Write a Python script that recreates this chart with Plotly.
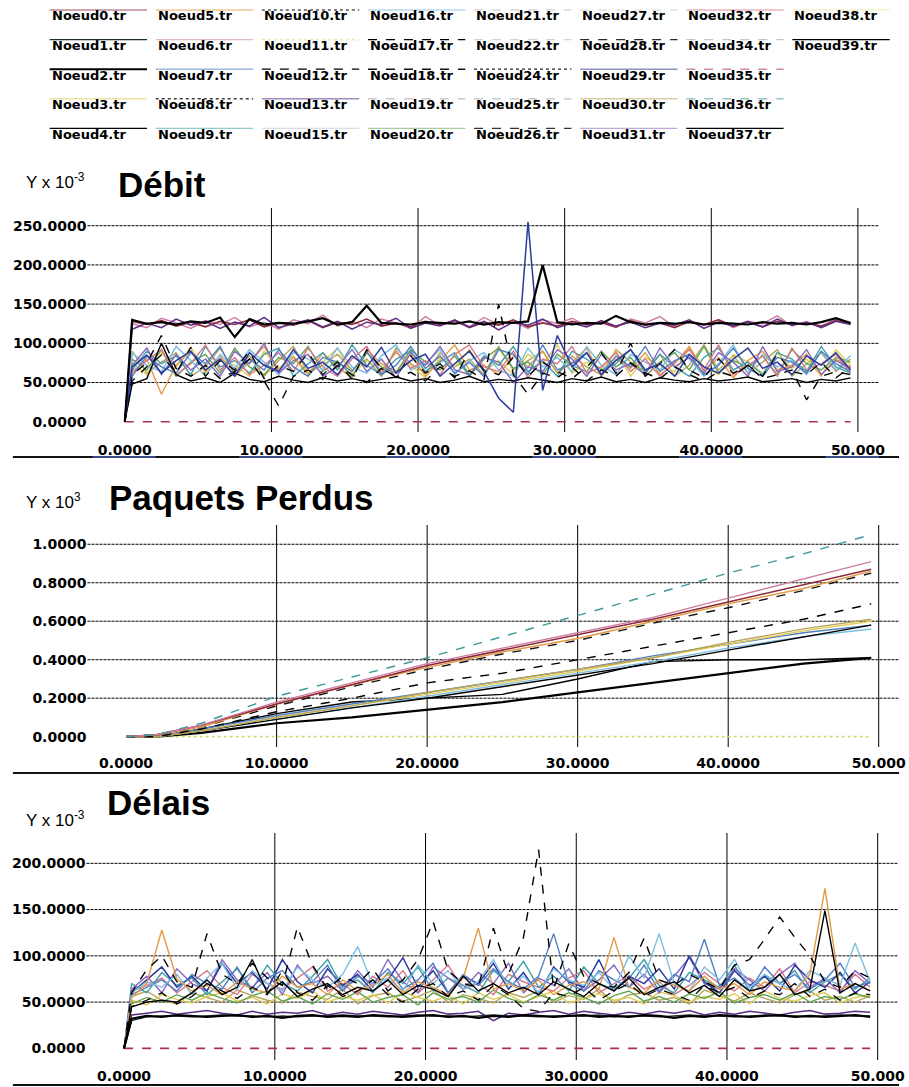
import plotly.graph_objects as go

W, H = 909, 1087

# ---------------------------------------------------------------- series names
NAMES = [
    "Noeud0.tr", "Noeud1.tr", "Noeud2.tr", "Noeud3.tr", "Noeud4.tr",
    "Noeud5.tr", "Noeud6.tr", "Noeud7.tr", "Noeud8.tr", "Noeud9.tr",
    "Noeud10.tr", "Noeud11.tr", "Noeud12.tr", "Noeud13.tr", "Noeud15.tr",
    "Noeud16.tr", "Noeud17.tr", "Noeud18.tr", "Noeud19.tr", "Noeud20.tr",
    "Noeud21.tr", "Noeud22.tr", "Noeud24.tr", "Noeud25.tr", "Noeud26.tr",
    "Noeud27.tr", "Noeud28.tr", "Noeud29.tr", "Noeud30.tr", "Noeud31.tr",
    "Noeud32.tr", "Noeud34.tr", "Noeud35.tr", "Noeud36.tr", "Noeud37.tr",
    "Noeud38.tr", "Noeud39.tr",
]

# colour, dash, width for every node
STYLE = {
    "Noeud0.tr": ("#8c2a3a", "solid", 1.6),
    "Noeud1.tr": ("#1f2f2f", "solid", 1.4),
    "Noeud2.tr": ("#000000", "solid", 2.2),
    "Noeud3.tr": ("#e2cc52", "solid", 1.4),
    "Noeud4.tr": ("#000000", "solid", 1.4),
    "Noeud5.tr": ("#e39a45", "solid", 1.4),
    "Noeud6.tr": ("#cf7ca4", "solid", 1.4),
    "Noeud7.tr": ("#4f7fc2", "solid", 1.4),
    "Noeud8.tr": ("#404040", "dot", 1.4),
    "Noeud9.tr": ("#3f9fa6", "solid", 1.4),
    "Noeud10.tr": ("#000000", "dot", 1.2),
    "Noeud11.tr": ("#cfe07a", "dot", 1.8),
    "Noeud12.tr": ("#000000", "dash", 1.3),
    "Noeud13.tr": ("#5a2d86", "solid", 1.5),
    "Noeud15.tr": ("#b8c4d2", "solid", 1.2),
    "Noeud16.tr": ("#7bbde3", "solid", 1.4),
    "Noeud17.tr": ("#000000", "dash", 1.4),
    "Noeud18.tr": ("#111111", "dash", 1.4),
    "Noeud19.tr": ("#8a8a8a", "dash", 1.2),
    "Noeud20.tr": ("#62a653", "solid", 1.4),
    "Noeud21.tr": ("#9a9a9a", "dash", 1.2),
    "Noeud22.tr": ("#b0b0b0", "dash", 1.2),
    "Noeud24.tr": ("#222222", "dot", 1.2),
    "Noeud25.tr": ("#8c8c8c", "dash", 1.2),
    "Noeud26.tr": ("#333333", "dash", 1.2),
    "Noeud27.tr": ("#b5b5b5", "dash", 1.2),
    "Noeud28.tr": ("#2a2a2a", "dash", 1.2),
    "Noeud29.tr": ("#2b3a9c", "solid", 1.5),
    "Noeud30.tr": ("#b7a45a", "solid", 1.4),
    "Noeud31.tr": ("#8a66c2", "solid", 1.4),
    "Noeud32.tr": ("#d9788a", "solid", 1.4),
    "Noeud34.tr": ("#999999", "dash", 1.2),
    "Noeud35.tr": ("#a8324a", "dash", 1.6),
    "Noeud36.tr": ("#3d9a9a", "dash", 1.4),
    "Noeud37.tr": ("#000000", "solid", 1.4),
    "Noeud38.tr": ("#ece7a0", "solid", 1.4),
    "Noeud39.tr": ("#000000", "solid", 1.4),
}

# ---------------------------------------------------------------- Débit (x 10^-3)
# samples at t = 0, 0.5, 1.5, ..., 49.5
DEBIT_N0 = [0,
    128, 124, 129, 122, 127, 121, 128, 124, 130, 121,
    126, 123, 129, 120, 127, 124, 131, 122, 126, 121,
    128, 124, 129, 120, 127, 123, 130, 121, 126, 122,
    128, 124, 127, 121, 129, 123, 126, 120, 128, 124,
    130, 122, 127, 121, 128, 124, 126, 122, 129, 125]
DEBIT_N13 = [0,
    118, 126, 120, 131, 123, 128, 119, 127, 122, 133,
    120, 125, 130, 121, 128, 118, 127, 124, 132, 119,
    126, 122, 130, 121, 128, 117, 127, 123, 131, 120,
    126, 121, 129, 122, 127, 120, 126, 123, 130, 119,
    127, 122, 128, 121, 131, 123, 127, 120, 128, 124]
DEBIT_N6 = [0,
    125, 120, 132, 126, 119, 129, 124, 133, 121, 127,
    118, 130, 125, 136, 122, 128, 120, 131, 126, 119,
    134, 123, 128, 121, 133, 124, 127, 119, 130, 125,
    132, 122, 126, 120, 131, 126, 134, 121, 127, 123,
    130, 120, 128, 125, 135, 122, 128, 121, 131, 126]
DEBIT_N2 = [0,
    130, 125, 127, 124, 128, 126, 133, 108, 131, 124,
    126, 125, 128, 132, 124, 127, 148, 126, 125, 124,
    127, 126, 125, 128, 124, 127, 126, 128, 200, 127,
    124, 126, 125, 135, 127, 124, 126, 125, 127, 124,
    126, 125, 124, 127, 125, 126, 124, 127, 132, 126]
DEBIT_N4 = [0,
    48, 55, 100, 60, 52, 56, 50, 62, 54, 51,
    58, 53, 50, 56, 52, 55, 51, 54, 57, 52,
    55, 50, 53, 58, 51, 54, 52, 56, 53, 50,
    55, 52, 57, 51, 54, 50, 56, 53, 51, 55,
    52, 54, 57, 51, 53, 55, 50, 54, 52, 56]
DEBIT_N17 = [0,
    60, 75, 110, 68, 58, 72, 55, 64, 80, 52,
    20, 58, 66, 54, 72, 60, 50, 68, 57, 63,
    52, 70, 58, 65, 54, 150, 60, 35, 62, 56,
    70, 52, 66, 58, 75, 62, 55, 70, 60, 52,
    64, 58, 72, 55, 60, 66, 28, 58, 64, 60]
DEBIT_N12 = [0,
    52, 70, 85, 62, 95, 58, 78, 66, 90, 55,
    72, 64, 88, 60, 76, 54, 92, 68, 58, 84,
    62, 74, 56, 90, 66, 60, 82, 58, 76, 64,
    55, 70, 88, 62, 100, 58, 74, 92, 66, 56,
    80, 62, 72, 58, 86, 64, 60, 76, 56, 70]
DEBIT_N29 = [0,
    70, 85, 62, 78, 90, 66, 80, 58, 88, 72,
    64, 92, 68, 76, 60, 84, 70, 95, 62, 78,
    86, 58, 74, 90, 64, 30, 12, 255, 40, 110,
    70, 88, 60, 78, 92, 66, 74, 58, 86, 70,
    62, 80, 94, 68, 76, 60, 84, 72, 88, 66]
DEBIT_N5 = [0,
    62, 80, 35, 72, 90, 64, 84, 58, 76, 96,
    66, 82, 60, 88, 70, 56, 92, 74, 64, 86,
    58, 78, 98, 66, 72, 60, 84, 70, 90, 62,
    76, 94, 58, 80, 68, 88, 60, 74, 96, 64,
    82, 56, 78, 90, 66, 72, 86, 60, 80, 70]
DEBIT_N3 = [0,
    75, 60, 88, 70, 95, 62, 80, 72, 58, 90,
    68, 84, 62, 76, 94, 60, 78, 66, 88, 72,
    56, 82, 70, 92, 64, 78, 60, 86, 74, 98,
    62, 76, 68, 90, 58, 82, 72, 64, 94, 70,
    60, 86, 76, 62, 88, 68, 80, 58, 92, 72]
DEBIT_N20 = [0,
    80, 66, 92, 58, 76, 86, 62, 94, 70, 60,
    82, 74, 96, 64, 78, 58, 88, 70, 62, 92,
    76, 66, 84, 58, 80, 94, 68, 76, 60, 86,
    72, 64, 90, 70, 82, 58, 76, 88, 66, 96,
    62, 78, 70, 84, 60, 92, 74, 66, 82, 76]
DEBIT_N9 = [0,
    66, 90, 74, 84, 60, 96, 70, 78, 62, 86,
    94, 58, 74, 88, 66, 98, 72, 60, 80, 90,
    64, 76, 88, 60, 84, 72, 96, 64, 78, 58,
    90, 80, 66, 74, 92, 62, 86, 70, 58, 82,
    94, 66, 76, 60, 88, 80, 64, 96, 70, 62]
DEBIT_N16 = [0,
    88, 72, 64, 96, 78, 58, 86, 68, 92, 76,
    60, 88, 80, 66, 94, 70, 62, 84, 98, 66,
    74, 92, 60, 78, 88, 66, 58, 94, 70, 82,
    64, 96, 72, 60, 86, 76, 66, 92, 80, 58,
    74, 98, 62, 86, 70, 78, 60, 90, 66, 84]
DEBIT_N7 = [0,
    58, 84, 70, 62, 88, 74, 96, 60, 80, 66,
    92, 70, 58, 82, 76, 64, 90, 60, 72, 96,
    68, 84, 62, 76, 58, 92, 86, 60, 98, 66,
    74, 88, 60, 84, 70, 96, 64, 78, 86, 60,
    72, 94, 68, 58, 82, 76, 62, 90, 74, 64]
DEBIT_N31 = [0,
    72, 94, 60, 86, 66, 80, 58, 90, 74, 100,
    62, 78, 86, 58, 70, 92, 64, 80, 56, 88,
    72, 96, 66, 60, 82, 76, 50, 70, 64, 92,
    80, 58, 86, 66, 74, 60, 94, 70, 82, 62,
    88, 76, 58, 96, 64, 70, 92, 60, 78, 68]
DEBIT_N32 = [0,
    64, 78, 92, 60, 74, 98, 66, 82, 60, 72,
    88, 64, 94, 70, 58, 80, 96, 62, 90, 68,
    78, 60, 86, 98, 70, 64, 90, 56, 80, 74,
    96, 62, 70, 88, 64, 80, 58, 76, 92, 66,
    98, 60, 72, 84, 58, 94, 66, 74, 86, 62]
DEBIT_N30 = [0,
    90, 62, 76, 88, 58, 70, 94, 64, 84, 58,
    78, 96, 62, 72, 86, 66, 80, 58, 94, 74,
    62, 88, 70, 80, 60, 96, 66, 78, 90, 62,
    84, 70, 60, 92, 76, 64, 86, 58, 72, 98,
    66, 84, 62, 76, 92, 58, 74, 88, 64, 80]

# ---------------------------------------------------------------- Délais (x 10^-3)
DELAI_N2 = [0,
    32, 35, 34, 36, 35, 34, 35, 36, 34, 35,
    33, 35, 36, 34, 35, 34, 36, 35, 34, 35,
    36, 34, 35, 33, 35, 34, 36, 35, 34, 35,
    36, 34, 35, 34, 36, 35, 33, 35, 34, 36,
    35, 34, 35, 36, 34, 35, 34, 35, 36, 34]
DELAI_N1 = [0,
    30, 34, 35, 35, 34, 35, 36, 35, 35, 34,
    35, 34, 35, 35, 36, 35, 35, 34, 35, 36,
    35, 35, 34, 35, 36, 35, 35, 34, 35, 35,
    35, 36, 34, 35, 35, 34, 35, 36, 35, 35,
    34, 35, 36, 35, 35, 34, 35, 36, 35, 35]
DELAI_N13 = [0,
    36, 38, 40, 37, 39, 41, 38, 36, 40, 37,
    39, 38, 41, 36, 39, 37, 40, 38, 36, 39,
    41, 37, 38, 40, 30, 38, 36, 39, 41, 37,
    40, 38, 36, 39, 37, 40, 38, 41, 36, 39,
    37, 40, 38, 36, 39, 41, 37, 38, 40, 39]
DELAI_N20 = [0,
    48, 55, 50, 58, 52, 60, 54, 49, 57, 62,
    51, 56, 48, 59, 53, 61, 50, 55, 58, 47,
    60, 53, 56, 50, 63, 54, 49, 58, 52, 60,
    55, 48, 57, 62, 51, 56, 50, 59, 54, 61,
    49, 55, 58, 52, 60, 50, 56, 53, 59, 55]
DELAI_N3 = [0,
    52, 47, 58, 53, 49, 56, 60, 51, 55, 48,
    59, 54, 62, 50, 56, 52, 58, 49, 61, 55,
    51, 57, 48, 60, 53, 58, 50, 56, 62, 49,
    54, 59, 52, 55, 48, 61, 57, 50, 56, 53,
    59, 48, 62, 54, 51, 57, 60, 49, 55, 58]
DELAI_N30 = [0,
    56, 62, 52, 48, 60, 55, 50, 63, 57, 52,
    49, 61, 56, 53, 64, 48, 57, 60, 51, 56,
    63, 50, 58, 54, 49, 60, 55, 62, 50, 57,
    53, 64, 49, 58, 60, 52, 55, 48, 63, 57,
    51, 60, 54, 49, 58, 62, 52, 56, 50, 57]
DELAI_N5 = [0,
    55, 70, 128, 75, 62, 68, 58, 72, 64, 60,
    78, 66, 70, 58, 74, 62, 68, 80, 60, 72,
    66, 58, 76, 130, 64, 70, 62, 74, 58, 68,
    72, 64, 120, 66, 60, 74, 68, 62, 78, 64,
    70, 58, 72, 66, 62, 80, 173, 64, 70, 62]
DELAI_N16 = [0,
    60, 72, 66, 80, 58, 76, 92, 64, 84, 70,
    62, 88, 74, 66, 80, 110, 68, 76, 62, 90,
    70, 84, 64, 72, 96, 66, 78, 60, 86, 74,
    68, 82, 64, 100, 76, 124, 70, 62, 88, 74,
    96, 66, 80, 70, 62, 84, 76, 68, 114, 72]
DELAI_N7 = [0,
    58, 66, 74, 62, 80, 70, 64, 88, 60, 76,
    84, 66, 72, 90, 62, 78, 70, 86, 64, 74,
    92, 60, 80, 68, 86, 72, 64, 78, 124, 70,
    62, 84, 74, 66, 90, 62, 80, 72, 118, 68,
    76, 62, 88, 70, 80, 64, 74, 92, 66, 72]
DELAI_N31 = [0,
    64, 78, 60, 86, 70, 62, 96, 74, 66, 82,
    58, 90, 70, 78, 62, 84, 66, 96, 72, 60,
    88, 76, 64, 82, 70, 92, 60, 76, 68, 86,
    62, 74, 90, 66, 80, 60, 78, 98, 70, 64,
    86, 74, 62, 80, 92, 66, 76, 60, 84, 70]
DELAI_N9 = [0,
    70, 60, 82, 68, 76, 58, 72, 86, 64, 90,
    70, 62, 78, 96, 66, 74, 60, 82, 70, 88,
    62, 76, 68, 60, 84, 72, 94, 66, 78, 62,
    88, 70, 64, 76, 96, 68, 60, 82, 74, 66,
    90, 62, 78, 70, 84, 60, 72, 80, 64, 76]
DELAI_N32 = [0,
    62, 68, 76, 60, 72, 84, 66, 58, 80, 70,
    64, 76, 88, 62, 70, 58, 78, 66, 84, 60,
    74, 90, 64, 70, 58, 80, 72, 66, 62, 76,
    84, 60, 70, 78, 64, 72, 58, 68, 82, 70,
    62, 76, 66, 86, 60, 72, 68, 62, 80, 66]
DELAI_N29 = [0,
    60, 74, 88, 66, 78, 62, 92, 70, 82, 64,
    96, 72, 60, 86, 68, 80, 62, 74, 98, 66,
    84, 60, 78, 70, 92, 64, 82, 58, 88, 72,
    66, 96, 62, 78, 70, 86, 64, 100, 72, 60,
    84, 68, 78, 62, 90, 74, 66, 82, 60, 72]
DELAI_N17 = [0,
    60, 85, 100, 72, 66, 124, 80, 70, 92, 76,
    68, 131, 90, 64, 78, 70, 86, 62, 74, 96,
    137, 84, 70, 66, 130, 80, 120, 215, 64, 113,
    78, 70, 66, 82, 119, 74, 68, 80, 72, 64,
    90, 96, 118, 142, 120, 100, 72, 66, 84, 76]
DELAI_N4 = [0,
    45, 50, 52, 50, 60, 74, 58, 66, 96, 60,
    72, 56, 64, 70, 58, 66, 62, 74, 58, 68,
    64, 56, 78, 62, 70, 60, 66, 58, 72, 64,
    56, 70, 62, 76, 58, 66, 72, 60, 68, 56,
    74, 62, 66, 80, 58, 64, 149, 60, 70, 62]
DELAI_N12 = [0,
    45, 52, 60, 48, 56, 70, 62, 54, 66, 58,
    84, 60, 52, 68, 56, 62, 74, 58, 50, 64,
    70, 56, 62, 52, 68, 58, 43, 40, 60, 56,
    66, 52, 62, 70, 56, 64, 58, 52, 68, 60,
    66, 54, 62, 58, 70, 56, 64, 52, 60, 58]

# flat series lying on zero
ZERO_T = [0, 49.5]
ZERO_V = [0, 0]

# ---------------------------------------------------------------- Paquets Perdus (x 10^3)
PQ_T = [0, 2, 5, 10, 15, 20, 25, 30, 35, 40, 45, 49.5]
PQ_N36 = [0, 0.01, 0.07, 0.21, 0.31, 0.41, 0.52, 0.63, 0.74, 0.85, 0.95, 1.05]
PQ_N6 = [0, 0.01, 0.06, 0.18, 0.28, 0.38, 0.46, 0.54, 0.62, 0.72, 0.82, 0.91]
PQ_N0 = [0, 0.01, 0.06, 0.17, 0.27, 0.37, 0.45, 0.53, 0.61, 0.70, 0.79, 0.87]
PQ_N5 = [0, 0.01, 0.05, 0.17, 0.27, 0.36, 0.44, 0.51, 0.60, 0.69, 0.77, 0.86]
PQ_N18 = [0, 0.01, 0.05, 0.16, 0.26, 0.35, 0.43, 0.50, 0.59, 0.67, 0.76, 0.85]
PQ_N17 = [0, 0.00, 0.04, 0.13, 0.20, 0.28, 0.33, 0.40, 0.47, 0.54, 0.61, 0.69]
PQ_N30 = [0, 0.00, 0.03, 0.10, 0.16, 0.23, 0.29, 0.35, 0.41, 0.49, 0.56, 0.61]
PQ_N3 = [0, 0.00, 0.03, 0.10, 0.16, 0.22, 0.28, 0.34, 0.41, 0.48, 0.55, 0.60]
PQ_N7 = [0, 0.00, 0.04, 0.11, 0.17, 0.23, 0.29, 0.35, 0.42, 0.48, 0.54, 0.58]
PQ_N16 = [0, 0.00, 0.03, 0.09, 0.15, 0.21, 0.27, 0.33, 0.39, 0.46, 0.52, 0.56]
PQ_N4 = [0, 0.00, 0.03, 0.09, 0.15, 0.20, 0.26, 0.32, 0.38, 0.45, 0.52, 0.58]
PQ_N39 = [0, 0.00, 0.04, 0.12, 0.18, 0.20, 0.22, 0.30, 0.39, 0.40, 0.40, 0.41]
PQ_N2 = [0, 0.00, 0.02, 0.07, 0.10, 0.14, 0.18, 0.23, 0.28, 0.33, 0.38, 0.41]
PQ_ZERO_T = [2.5, 49.5]
PQ_ZERO_V = [0, 0]


def half_step_times(values):
    """t = 0 then 0.5, 1.5, 2.5 ... for each following sample."""
    return [0] + [k + 0.5 for k in range(len(values) - 1)]


# (name, x, y) in drawing order: colour band first, black curves on top
DEBIT_SERIES = [
    ("Noeud35.tr", ZERO_T, ZERO_V),
    ("Noeud30.tr", None, DEBIT_N30), ("Noeud3.tr", None, DEBIT_N3),
    ("Noeud5.tr", None, DEBIT_N5), ("Noeud20.tr", None, DEBIT_N20),
    ("Noeud9.tr", None, DEBIT_N9), ("Noeud16.tr", None, DEBIT_N16),
    ("Noeud32.tr", None, DEBIT_N32), ("Noeud31.tr", None, DEBIT_N31),
    ("Noeud7.tr", None, DEBIT_N7),
    ("Noeud6.tr", None, DEBIT_N6), ("Noeud0.tr", None, DEBIT_N0),
    ("Noeud13.tr", None, DEBIT_N13),
    ("Noeud12.tr", None, DEBIT_N12), ("Noeud4.tr", None, DEBIT_N4),
    ("Noeud17.tr", None, DEBIT_N17), ("Noeud29.tr", None, DEBIT_N29),
    ("Noeud2.tr", None, DEBIT_N2),
]
PAQUETS_SERIES = [
    ("Noeud11.tr", PQ_ZERO_T, PQ_ZERO_V),
    ("Noeud2.tr", PQ_T, PQ_N2), ("Noeud39.tr", PQ_T, PQ_N39),
    ("Noeud16.tr", PQ_T, PQ_N16), ("Noeud7.tr", PQ_T, PQ_N7),
    ("Noeud4.tr", PQ_T, PQ_N4), ("Noeud3.tr", PQ_T, PQ_N3),
    ("Noeud30.tr", PQ_T, PQ_N30), ("Noeud17.tr", PQ_T, PQ_N17),
    ("Noeud18.tr", PQ_T, PQ_N18), ("Noeud5.tr", PQ_T, PQ_N5),
    ("Noeud0.tr", PQ_T, PQ_N0), ("Noeud6.tr", PQ_T, PQ_N6),
    ("Noeud36.tr", PQ_T, PQ_N36),
]
DELAI_SERIES = [
    ("Noeud35.tr", ZERO_T, ZERO_V),
    ("Noeud30.tr", None, DELAI_N30), ("Noeud3.tr", None, DELAI_N3),
    ("Noeud20.tr", None, DELAI_N20), ("Noeud32.tr", None, DELAI_N32),
    ("Noeud9.tr", None, DELAI_N9), ("Noeud31.tr", None, DELAI_N31),
    ("Noeud29.tr", None, DELAI_N29), ("Noeud7.tr", None, DELAI_N7),
    ("Noeud16.tr", None, DELAI_N16), ("Noeud5.tr", None, DELAI_N5),
    ("Noeud13.tr", None, DELAI_N13), ("Noeud12.tr", None, DELAI_N12),
    ("Noeud4.tr", None, DELAI_N4), ("Noeud17.tr", None, DELAI_N17),
    ("Noeud1.tr", None, DELAI_N1), ("Noeud2.tr", None, DELAI_N2),
]

X_TICKS = [0, 10, 20, 30, 40, 50]
X_LABELS = ["0.0000", "10.0000", "20.0000", "30.0000", "40.0000", "50.000"]

PANELS = [
    dict(series=DEBIT_SERIES, xpx=(88, 885), ypx=(208, 432),
         xr=(-2.55, 51.45), yr=(-13.1, 272.6),
         yt=[0, 50, 100, 150, 200, 250],
         yl=["0.0000", "50.0000", "100.0000", "150.0000", "200.0000", "250.0000"],
         title="Débit", tpos=(117, 184), unit="Y x 10<sup>-3</sup>", upos=(24, 181),
         sep=457, standoff=8),
    dict(series=PAQUETS_SERIES, xpx=(88, 905), ypx=(525, 747),
         xr=(-2.57, 51.35), yr=(-0.0535, 1.100),
         yt=[0, 0.2, 0.4, 0.6, 0.8, 1.0],
         yl=["0.0000", "0.2000", "0.4000", "0.6000", "0.8000", "1.0000"],
         title="Paquets Perdus", tpos=(108, 497), unit="Y x 10<sup>3</sup>", upos=(24, 501),
         sep=773, standoff=6),
    dict(series=DELAI_SERIES, xpx=(87, 904), ypx=(833, 1060),
         xr=(-2.5, 51.35), yr=(-12.6, 232.8),
         yt=[0, 50, 100, 150, 200],
         yl=["0.0000", "50.0000", "100.0000", "150.0000", "200.0000"],
         title="Délais", tpos=(106, 802), unit="Y x 10<sup>-3</sup>", upos=(24, 819),
         sep=1085, standoff=6),
]

TICK_FONT = dict(family="DejaVu Sans", size=14, color="#000000", weight="bold")
LEG_FONT = dict(family="DejaVu Sans", size=13, color="#000000", weight="bold")
TITLE_FONT = dict(family="Liberation Sans, Arial", size=35, color="#000000", weight="bold")
UNIT_FONT = dict(family="Liberation Sans, Arial", size=17, color="#000000")

fig = go.Figure()
shapes, annotations = [], []
layout = {}

for i, p in enumerate(PANELS):
    sfx = "" if i == 0 else str(i + 1)
    xa, ya = "x" + sfx, "y" + sfx
    for name, xs, ys in p["series"]:
        color, dash, width = STYLE[name]
        fig.add_trace(go.Scatter(
            x=xs if xs is not None else half_step_times(ys), y=ys,
            mode="lines", name=name, xaxis=xa, yaxis=ya,
            line=dict(color=color, dash=dash, width=width),
            showlegend=False, hoverinfo="skip"))

    layout["xaxis" + sfx] = dict(
        domain=[p["xpx"][0] / W, p["xpx"][1] / W], range=list(p["xr"]), anchor=ya,
        tickmode="array", tickvals=X_TICKS, ticktext=X_LABELS, showgrid=False,
        zeroline=False, showline=False, ticks="", tickfont=TICK_FONT,
        ticklabelstandoff=p["standoff"])
    layout["yaxis" + sfx] = dict(
        domain=[1 - p["ypx"][1] / H, 1 - p["ypx"][0] / H], range=list(p["yr"]),
        anchor=xa, tickmode="array", tickvals=p["yt"], ticktext=p["yl"],
        showgrid=False, zeroline=False, showline=False, ticks="",
        tickfont=TICK_FONT, ticklabelstandoff=0)

    # vertical grid (solid) at the non-zero x ticks
    for v in X_TICKS[1:]:
        shapes.append(dict(type="line", xref=xa, yref=ya + " domain", x0=v, x1=v,
                           y0=0, y1=1, line=dict(color="#000000", width=1), layer="below"))
    # horizontal grid (dotted) at the non-zero y ticks
    for v in p["yt"][1:]:
        shapes.append(dict(type="line", xref=xa + " domain", yref=ya, x0=0, x1=1,
                           y0=v, y1=v, line=dict(color="#000000", width=1, dash="3px,1px"),
                           layer="below"))
    # rule under the x labels
    yy = 1 - p["sep"] / H
    shapes.append(dict(type="line", xref="paper", yref="paper", x0=13 / W, x1=905 / W,
                       y0=yy, y1=yy, line=dict(color="#111111", width=2)))
    if i == 0:
        for v in X_TICKS:
            shapes.append(dict(type="line", xref=xa, yref="paper", x0=v - 2.2, x1=v + 2.1,
                               y0=yy, y1=yy, line=dict(color="#3c4c88", width=2)))

    annotations.append(dict(text=p["title"], xref="paper", yref="paper",
                            x=p["tpos"][0] / W, y=1 - p["tpos"][1] / H,
                            xanchor="left", yanchor="middle", showarrow=False,
                            font=TITLE_FONT))
    annotations.append(dict(text=p["unit"], xref="paper", yref="paper",
                            x=p["upos"][0] / W, y=1 - p["upos"][1] / H,
                            xanchor="left", yanchor="middle", showarrow=False,
                            font=UNIT_FONT))

# ---------------------------------------------------------------- legend block
LEG_X0, LEG_DX = 50, 106.8
LEG_Y0, LEG_DY = 16, 29.6
LEG_LINE = 98


def is_dark(hexcol):
    r, g, b = int(hexcol[1:3], 16), int(hexcol[3:5], 16), int(hexcol[5:7], 16)
    return (r + g + b) / 3 < 80


for k, name in enumerate(NAMES):
    col, row = divmod(k, 5)
    x0 = LEG_X0 + col * LEG_DX
    yc = LEG_Y0 + row * LEG_DY
    color, dash, width = STYLE[name]
    ly = 1 - (yc - 6) / H
    shapes.append(dict(type="line", xref="paper", yref="paper",
                       x0=x0 / W, x1=(x0 + LEG_LINE) / W, y0=ly, y1=ly,
                       opacity=1.0 if is_dark(color) else 0.55,
                       line=dict(color=color, dash=dash, width=min(width, 2))))
    annotations.append(dict(text=name, xref="paper", yref="paper",
                            x=x0 / W, y=1 - yc / H, xanchor="left", yanchor="middle",
                            showarrow=False, font=LEG_FONT))

fig.update_layout(
    width=W, height=H, margin=dict(l=0, r=0, t=0, b=0),
    paper_bgcolor="#ffffff", plot_bgcolor="#ffffff",
    showlegend=False, shapes=shapes, annotations=annotations, **layout)

fig.write_html("out.html")
